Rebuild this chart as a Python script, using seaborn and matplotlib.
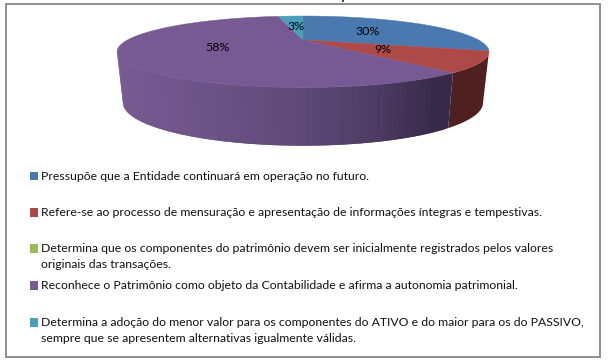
import numpy as np
import matplotlib
matplotlib.use("Agg")
import matplotlib.pyplot as plt
import seaborn as sns
from matplotlib.colors import to_rgb
from matplotlib.patches import Polygon, Rectangle

categories = [
    "Pressupõe que a Entidade continuará em operação no futuro.",
    "Refere-se ao processo de mensuração e apresentação de informações íntegras e tempestivas.",
    "Determina que os componentes do patrimônio devem ser inicialmente registrados pelos valores\noriginais das transações.",
    "Reconhece o Patrimônio como objeto da Contabilidade e afirma a autonomia patrimonial.",
    "Determina a adoção do menor valor para os componentes do ATIVO e do maior para os do PASSIVO,\nsempre que se apresentem alternativas igualmente válidas.",
]
values = [30, 9, 0, 58, 3]
labels = ["30%", "9%", "", "58%", "3%"]
colors = ["#4A79B0", "#AD4A47", "#9BBB59", "#775A93", "#4A9FBB"]

sns.set_theme(style="white")
plt.rcParams["font.family"] = ["Lato", "DejaVu Sans"]
palette = sns.color_palette(colors)

W, H = 608, 362
fig = plt.figure(figsize=(W / 100, H / 100), dpi=100, facecolor="white")
ax = fig.add_axes([0, 0, 1, 1])
ax.set_xlim(0, W)
ax.set_ylim(H, 0)
ax.axis("off")

K = 0.329


def project(theta_deg, r=1.0, cy=40.0, a=31.9, b=175.6, k=K):
    """Clockwise angle from 12 o'clock on the disc to screen pixels."""
    t = np.radians(theta_deg)
    u, v = r * np.sin(t), r * np.cos(t)
    d = 1 + k * v
    return 303.0 + b * u / d, cy - a * v / d


def side(theta_deg):
    return project(theta_deg, cy=88.6, a=38.3, b=170.0)


edges = np.concatenate([[0], np.cumsum(values)]) / sum(values) * 360
silhouette_r = np.degrees(np.arccos(-K))
silhouette_l = 360 - silhouette_r

# frame and clipped title remnant
ax.add_patch(Rectangle((5.5, 3.5), 594, 353, fc="white", ec="#868686", lw=1.3, zorder=0))
ax.plot([343, 343], [0, 2], color="#222222", lw=1.2, zorder=1, solid_capstyle="butt")

# side wall, front half only: overlapping slices avoid seams
side_stops_x = [120, 200, 300, 380, 440, 450]
side_stops = [to_rgb(c) for c in ["#775A93", "#6D5488", "#5F4A78", "#4D3C64", "#362A48", "#362A48"]]
red_side = to_rgb("#4E201F")


def side_patch(t0, t1, col, z):
    th = np.linspace(t0, t1, max(int(t1 - t0) + 2, 4))
    tx, ty = project(th)
    bx, by = side(th)
    pts = np.column_stack([np.r_[tx, bx[::-1]], np.r_[ty, by[::-1]]])
    ax.add_patch(Polygon(pts, fc=col, ec="none", zorder=z))


# purple wall: painted from the right so each slice covers the previous seam
for t0 in np.arange(edges[3], silhouette_l, 1.5):
    xm = project(t0)[0]
    col = tuple(np.interp(xm, side_stops_x, [c[i] for c in side_stops]) for i in range(3))
    side_patch(t0, min(t0 + 3.0, silhouette_l), col, 2)
side_patch(silhouette_r, edges[2], red_side, 2.5)

# top surface
for i, val in enumerate(values):
    if val == 0:
        continue
    th = np.arange(edges[i], edges[i + 1] + 0.5, 1.0)
    th[-1] = edges[i + 1]
    xs, ys = project(th)
    cx, cy = project(0.0, r=0.0)
    ax.add_patch(Polygon(np.column_stack([np.r_[cx, xs], np.r_[cy, ys]]),
                         fc=palette[i], ec=palette[i], lw=0.3, zorder=3))

# data labels at half radius
for i, lab in enumerate(labels):
    if not lab:
        continue
    mid = (edges[i] + edges[i + 1]) / 2
    x, y = project(mid, r=0.5)
    ax.text(x, y, lab, ha="center", va="center", fontsize=8.9, color="black", zorder=5)

# legend
legend_y = [176, 212.5, 248.5, 285.5, 322.5]
line_h = 16.5
for cat, col, y in zip(categories, palette, legend_y):
    ax.add_patch(Rectangle((30, y - 4.5), 8, 8.5, fc=col, ec="none", zorder=4))
    for n, line in enumerate(cat.split("\n")):
        ax.text(41, y + n * line_h, line, ha="left", va="center", fontsize=8.85,
                color="#111111", zorder=5)

fig.savefig("out.png", dpi=100, facecolor="white")
